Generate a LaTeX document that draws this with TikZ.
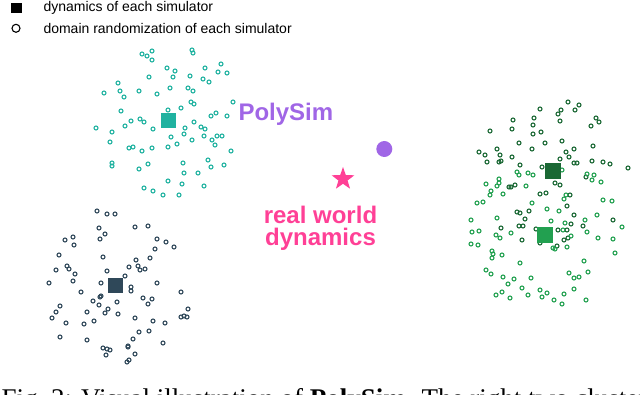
\documentclass[tikz,border=0pt]{standalone}
\usepackage{fontspec}
\setmainfont{Liberation Sans}
\newfontfamily\capfont{Liberation Serif}
\usetikzlibrary{shapes.geometric, positioning}
\definecolor{simteal}{RGB}{32,178,160}
\definecolor{simslate}{RGB}{47,72,89}
\definecolor{simdark}{RGB}{26,104,52}
\definecolor{simlight}{RGB}{34,160,80}
\definecolor{polypurple}{RGB}{160,102,230}
\definecolor{realpink}{RGB}{255,64,150}
\tikzstyle{ring} = [line width=1.1pt]
\tikzstyle{simbox} = [rectangle, minimum size=15pt, inner sep=0pt]
\tikzstyle{legtext} = [anchor=base west, inner sep=0pt, font=\fontsize{14}{16}\selectfont]
\tikzstyle{biglabel} = [anchor=base, inner sep=0pt, font=\fontsize{24}{22}\selectfont\bfseries]

\begin{document}
\begin{tikzpicture}[x=1pt, y=-1pt]
\useasboundingbox (0,0) rectangle (640,395);

% legend
\node (legsq) [rectangle, fill=black, minimum width=11pt, minimum height=10pt, inner sep=0pt] at (16,7.7) {};
\draw [ring, black] (16,28.3) circle[radius=4pt];
\node (legdyn) [legtext] at (43.3,12) {dynamics of each simulator};
\node (legdr) [legtext] at (43.3,33.3) {domain randomization of each simulator};

% simulator clusters
\foreach \px/\py in {142/54,147/56,152/51,152/60,192/50,193/53,221/64,205/68,218/72,227/73,167/68,175/71,173/77,149/77,190/76,203/79,209/82,118/83,120/91,124/97,104/93,139/91,157/94,170/88,188/88,193/91,191/102,194/104,233/102,121/111,168/110,181/108,211/116,216/113,227/116,96/128,112/132,110/142,125/126,131/121,140/119,144/122,153/129,194/122,185/128,184/134,201/127,205/129,171/137,192/140,204/136,212/140,217/136,222/136,215/145,231/151,129/148,133/147,142/151,152/148,168/147,177/144,112/163,112/166,148/164,139/169,183/163,184/173,198/173,208/160,211/167,224/165,168/181,182/184,204/186,144/188,153/191,163/195,179/195}
  \draw [ring, simteal] (\px,\py) circle[radius=2pt];

\foreach \px/\py in {97/211,107/214,115/214,99/228,105/234,100/239,135/227,148/226,65/240,73/237,74/245,157/239,166/242,174/247,155/249,59/255,103/257,150/258,136/260,67/266,69/269,56/270,75/274,73/281,107/271,129/267,138/266,140/270,145/269,125/276,49/283,101/283,131/287,131/291,157/283,81/292,181/292,101/296,100/297,93/301,117/302,143/298,152/299,148/304,60/306,56/312,52/318,99/305,108/309,105/313,87/312,118/314,188/309,181/317,184/316,187/317,66/323,84/324,94/321,135/318,153/321,165/323,139/332,149/331,60/337,87/340,133/339,128/346,128/347,163/343,103/348,107/349,110/350,106/355,135/354,129/360,127/362}
  \draw [ring, simslate] (\px,\py) circle[radius=2pt];

\foreach \px/\py in {568/102,579/105,575/110,540/109,561/110,558/114,560/121,534/118,513/120,533/125,512/129,490/131,541/132,533/134,596/118,599/122,591/126,519/143,545/143,562/141,532/149,497/149,500/155,479/152,485/155,487/162,499/162,501/161,512/157,574/149,566/152,593/146,560/159,569/157,574/163,577/163,592/161,603/162,610/164,628/168,520/165,542/167,509/187,511/187,515/185,555/183,560/185,586/177,540/194,546/193,570/195,567/206,517/212,520/213,529/211,574/215,525/219,613/220,519/226,523/226,501/228,536/229,571/224,558/230,567/230,583/226,522/240,564/240,568/238,540/243,557/246}
  \draw [ring, simdark] (\px,\py) circle[radius=2pt];

\foreach \px/\py in {562/170,517/172,519/175,528/173,533/175,499/179,499/183,497/186,486/184,526/186,587/174,594/175,592/180,601/182,491/191,490/195,503/194,566/195,564/199,477/203,483/202,532/203,603/200,612/201,547/209,559/211,497/218,471/220,551/221,585/220,597/215,565/223,563/230,587/232,622/227,472/232,479/231,496/235,500/238,511/233,571/236,598/238,613/239,471/244,478/245,553/248,555/249,567/247,492/251,493/254,492/258,502/255,615/253,520/263,584/261,486/270,491/274,503/277,514/279,531/278,569/273,574/278,579/277,588/272,508/284,522/288,540/290,547/293,542/297,574/289,564/294,502/292,496/295,510/298,528/295,554/300,562/304,586/300}
  \draw [ring, simlight] (\px,\py) circle[radius=2pt];

% dynamics of each simulator
\node (simA) [simbox, fill=simteal] at (168.7,120.3) {};
\node (simB) [simbox, fill=simslate] at (115.7,286) {};
\node (simC) [simbox, fill=simdark, minimum size=16pt] at (553,171.3) {};
\node (simD) [simbox, fill=simlight, minimum size=16pt] at (545.3,234.7) {};

% PolySim and real world
\node (poly) [circle, fill=polypurple, minimum size=16pt, inner sep=0pt] at (384.3,149) {};
\node (polylabel) [biglabel, anchor=base west, text=polypurple] at (238.3,120.5) {PolySim};
\node (real) [star, star points=5, star point ratio=2.5, fill=realpink, minimum size=24pt, inner sep=0pt] at (343,179) {};
\node (reallabel) [biglabel, anchor=north, align=center, text=realpink] at (320.5,206.2) {real world\\dynamics};

% caption, cut by the page edge
\begin{scope}
\clip (0,0) rectangle (640,395);
\node (caption) [anchor=base west, inner sep=0pt, font=\capfont\fontsize{27}{30}\selectfont] at (1.5,407) {Fig.~2: Visual illustration of \textbf{PolySim}. The right two clusters};
\end{scope}

\end{tikzpicture}
\end{document}
